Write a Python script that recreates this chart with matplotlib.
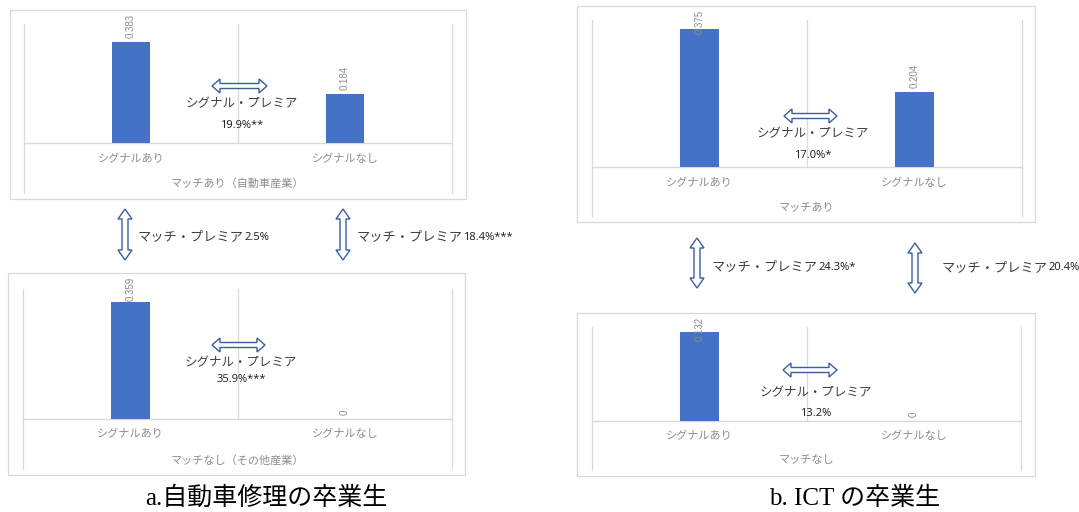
import matplotlib
matplotlib.use("Agg")
import matplotlib.pyplot as plt
from matplotlib.patches import Rectangle, Polygon

plt.rcParams['font.family'] = ['Noto Sans CJK JP', 'DejaVu Sans']

# ---------------- data ----------------
categories = ["シグナルあり", "シグナルなし"]
auto_match = [0.383, 0.184]
auto_nomatch = [0.359, 0.0]
ict_match = [0.375, 0.204]
ict_nomatch = [0.132, 0.0]
group_labels = ["マッチあり（自動車産業）", "マッチなし（その他産業）", "マッチあり", "マッチなし"]
signal_premium_label = "シグナル・プレミア"
signal_premiums = ["19.9%**", "35.9%***", "17.0%*", "13.2%"]
match_premium_label = "マッチ・プレミア"
match_premiums = ["2.5%", "18.4%***", "24.3%*", "20.4%"]
captions = ["a.自動車修理の卒業生", "b. ICT の卒業生"]
y_max = [0.45, 0.40, 0.40, 0.14]

# ---------------- layout (pixels) ----------------
W, H = 1079, 512
BAR = '#4472C4'
GRID = '#D9D9D9'
LBL = '#8C8C8C'
ARROW = '#3A5FA0'

panels = [
    dict(vals=auto_match, plot=(24, 452, 24, 143), inner_bottom=193, box=(10, 10, 466, 199),
         cat_y=159, grp_y=183, arrow=(212, 267, 86), sp_x=242, sp_y=(104, 125)),
    dict(vals=auto_nomatch, plot=(23, 452, 289, 419), inner_bottom=469, box=(8, 273, 465, 475),
         cat_y=434, grp_y=460, arrow=(212, 265, 345), sp_x=241, sp_y=(363, 380)),
    dict(vals=ict_match, plot=(592, 1022, 20, 167), inner_bottom=216, box=(577, 6, 1035, 222),
         cat_y=183, grp_y=207, arrow=(784, 837, 116), sp_x=813, sp_y=(134, 155)),
    dict(vals=ict_nomatch, plot=(592, 1021, 327, 421), inner_bottom=470, box=(577, 313, 1035, 476),
         cat_y=436, grp_y=460, arrow=(783, 837, 370), sp_x=816, sp_y=(393, 413)),
]
match_arrows = [(125, 209, 260, 138, 237), (343, 209, 260, 357, 237),
                (697, 238, 288, 712, 267), (915, 243, 293, 942, 268)]
caption_pos = [(266, 498), (855, 498)]

fig = plt.figure(figsize=(W / 100, H / 100), dpi=100)
fig.patch.set_facecolor('white')


def rect(x0, x1, y0, y1):
    return [x0 / W, 1 - y1 / H, (x1 - x0) / W, (y1 - y0) / H]


value_labels = []
for i, p in enumerate(panels):
    x0, x1, yt, yb = p['plot']
    ax = fig.add_axes(rect(x0, x1, yt, yb))
    ax.patch.set_alpha(0)
    ax.bar(range(len(categories)), p['vals'], width=0.18, color=BAR, zorder=3)
    ax.set_xlim(-0.5, 1.5)
    ax.set_ylim(0, y_max[i])
    for s in ax.spines.values():
        s.set_visible(False)
    ax.set_yticks([])
    ax.set_xticks(range(len(categories)))
    ax.set_xticklabels(categories, fontsize=8, color=LBL)
    ax.tick_params(axis='x', length=0, pad=(p['cat_y'] - yb) * 0.72)
    for lab in ax.get_xticklabels():
        lab.set_va('center')
    ax.axvline(0.5, color=GRID, lw=0.9, zorder=1)
    ax.axhline(0, color=GRID, lw=1.0, zorder=2, clip_on=False)
    low = -(p['inner_bottom'] - yb) / (yb - yt)
    for xv in (-0.5, 1.5):
        ax.plot([xv, xv], [1, low], transform=ax.get_xaxis_transform(),
                color=GRID, lw=0.9, clip_on=False)
    ax.text(0.5, -(p['grp_y'] - yb) / (yb - yt), group_labels[i], transform=ax.transAxes,
            ha='center', va='center', fontsize=8, color=LBL)
    for j, v in enumerate(p['vals']):
        t = ax.annotate(f"{v:g}", xy=(j, v), xytext=(0, 3), textcoords='offset points',
                        rotation=90, ha='center', va='bottom', fontsize=7, color=LBL,
                        family=['Liberation Sans'])
        value_labels.append((t, p['box'][1] + 4))

# overlay for boxes, arrows and annotations
ov = fig.add_axes([0, 0, 1, 1])
ov.set_xlim(0, W)
ov.set_ylim(H, 0)
ov.axis('off')
ov.patch.set_alpha(0)
ov.set_zorder(5)


def darrow_h(xa, xb, y, hl=8, hh=14, sh=5):
    pts = [(xa, y), (xa + hl, y - hh / 2), (xa + hl, y - sh / 2), (xb - hl, y - sh / 2),
           (xb - hl, y - hh / 2), (xb, y), (xb - hl, y + hh / 2), (xb - hl, y + sh / 2),
           (xa + hl, y + sh / 2), (xa + hl, y + hh / 2)]
    ov.add_patch(Polygon(pts, closed=True, fc='white', ec=ARROW, lw=1.0))


def darrow_v(x, ya, yb, hl=10, hw=14, sw=6):
    pts = [(x, ya), (x + hw / 2, ya + hl), (x + sw / 2, ya + hl), (x + sw / 2, yb - hl),
           (x + hw / 2, yb - hl), (x, yb), (x - hw / 2, yb - hl), (x - sw / 2, yb - hl),
           (x - sw / 2, ya + hl), (x - hw / 2, ya + hl)]
    ov.add_patch(Polygon(pts, closed=True, fc='white', ec=ARROW, lw=1.0))


for i, p in enumerate(panels):
    bx0, by0, bx1, by1 = p['box']
    ov.add_patch(Rectangle((bx0, by0), bx1 - bx0, by1 - by0, fill=False, ec=GRID, lw=0.9))
    xa, xb, ya = p['arrow']
    darrow_h(xa, xb, ya)
    ov.text(p['sp_x'], p['sp_y'][0], signal_premium_label, ha='center', va='center',
            fontsize=9, color='#404040')
    ov.text(p['sp_x'], p['sp_y'][1], signal_premiums[i], ha='center', va='center',
            fontsize=8, color='#1a1a1a', family=['Open Sans'])

for k, (x, ya, yb, tx, ty) in enumerate(match_arrows):
    darrow_v(x, ya, yb)
    jt = ov.text(tx, ty, match_premium_label, ha='left', va='center', fontsize=9.5,
                 color='#404040')
    ov.annotate(match_premiums[k], xy=(1, 0.5), xycoords=jt, ha='left', va='center',
                fontsize=8, color='#1a1a1a', family=['Open Sans'])

for c, (cx, cy) in zip(captions, caption_pos):
    ov.text(cx, cy, c, ha='center', va='center', fontsize=18, color='black',
            family=['Liberation Serif', 'Noto Sans CJK JP'])

# keep value labels inside the chart area (as Excel does)
fig.canvas.draw()
for t, limit_px in value_labels:
    bb = t.get_window_extent()
    top_px = H - bb.y1
    if top_px < limit_px:
        shift_pt = (limit_px - top_px) * 0.72
        t.set_position((0, 3 - shift_pt))

fig.savefig('out.png', dpi=100, facecolor='white')
